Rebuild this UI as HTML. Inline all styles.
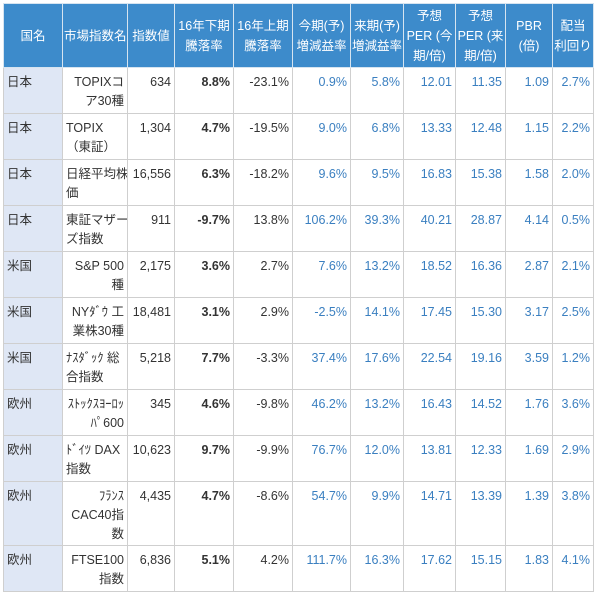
<!DOCTYPE html>
<html><head><meta charset="utf-8"><style>
body{margin:0;background:#fff;width:600px;height:597px;overflow:hidden}
table{position:absolute;left:3px;top:3px;border-collapse:collapse;table-layout:fixed;width:590px;font-family:"Liberation Sans","Noto Sans CJK JP",sans-serif;font-size:12.5px;line-height:19px;color:#333}
th{background:#3d8bcb;color:#fff;font-weight:normal;border:1px solid #d6e4f0;text-align:center;vertical-align:middle;padding:0 1px;height:63px;white-space:nowrap;overflow:hidden;line-height:20px}
td{border:1px solid #cfcfcf;vertical-align:top;padding:5px 3px 0 3px;text-align:right;height:40px;white-space:nowrap;overflow:hidden}
td.c{background:#dfe7f5;text-align:left}
td.l{text-align:left}
td.b{font-weight:bold}
td.u{color:#3a7fc0}
tr.tall td{height:58px}
</style></head><body>
<table>
<colgroup><col style="width:59px"><col style="width:65px"><col style="width:47px"><col style="width:59px"><col style="width:59px"><col style="width:58px"><col style="width:53px"><col style="width:52px"><col style="width:50px"><col style="width:47px"><col style="width:41px"></colgroup>
<tr><th>国名</th><th>市場指数名</th><th>指数値</th><th>16年下期<br>騰落率</th><th>16年上期<br>騰落率</th><th>今期(予)<br>増減益率</th><th>来期(予)<br>増減益率</th><th>予想<br>PER (今<br>期/倍)</th><th>予想<br>PER (来<br>期/倍)</th><th>PBR<br>(倍)</th><th>配当<br>利回り</th></tr>
<tr><td class="c">日本</td><td>TOPIXコ<br>ア30種</td><td>634</td><td class="b">8.8%</td><td>-23.1%</td><td class="u">0.9%</td><td class="u">5.8%</td><td class="u">12.01</td><td class="u">11.35</td><td class="u">1.09</td><td class="u">2.7%</td></tr>
<tr><td class="c">日本</td><td class="l">TOPIX<br>（東証）</td><td>1,304</td><td class="b">4.7%</td><td>-19.5%</td><td class="u">9.0%</td><td class="u">6.8%</td><td class="u">13.33</td><td class="u">12.48</td><td class="u">1.15</td><td class="u">2.2%</td></tr>
<tr><td class="c">日本</td><td class="l">日経平均株<br>価</td><td>16,556</td><td class="b">6.3%</td><td>-18.2%</td><td class="u">9.6%</td><td class="u">9.5%</td><td class="u">16.83</td><td class="u">15.38</td><td class="u">1.58</td><td class="u">2.0%</td></tr>
<tr><td class="c">日本</td><td class="l">東証マザー<br>ズ指数</td><td>911</td><td class="b">-9.7%</td><td>13.8%</td><td class="u">106.2%</td><td class="u">39.3%</td><td class="u">40.21</td><td class="u">28.87</td><td class="u">4.14</td><td class="u">0.5%</td></tr>
<tr><td class="c">米国</td><td>S&amp;P 500<br>種</td><td>2,175</td><td class="b">3.6%</td><td>2.7%</td><td class="u">7.6%</td><td class="u">13.2%</td><td class="u">18.52</td><td class="u">16.36</td><td class="u">2.87</td><td class="u">2.1%</td></tr>
<tr><td class="c">米国</td><td>NYﾀﾞｳ 工<br>業株30種</td><td>18,481</td><td class="b">3.1%</td><td>2.9%</td><td class="u">-2.5%</td><td class="u">14.1%</td><td class="u">17.45</td><td class="u">15.30</td><td class="u">3.17</td><td class="u">2.5%</td></tr>
<tr><td class="c">米国</td><td class="l">ﾅｽﾀﾞｯｸ 総<br>合指数</td><td>5,218</td><td class="b">7.7%</td><td>-3.3%</td><td class="u">37.4%</td><td class="u">17.6%</td><td class="u">22.54</td><td class="u">19.16</td><td class="u">3.59</td><td class="u">1.2%</td></tr>
<tr><td class="c">欧州</td><td>ｽﾄｯｸｽﾖｰﾛｯ<br>ﾊﾟ600</td><td>345</td><td class="b">4.6%</td><td>-9.8%</td><td class="u">46.2%</td><td class="u">13.2%</td><td class="u">16.43</td><td class="u">14.52</td><td class="u">1.76</td><td class="u">3.6%</td></tr>
<tr><td class="c">欧州</td><td class="l">ﾄﾞｲﾂ DAX<br>指数</td><td>10,623</td><td class="b">9.7%</td><td>-9.9%</td><td class="u">76.7%</td><td class="u">12.0%</td><td class="u">13.81</td><td class="u">12.33</td><td class="u">1.69</td><td class="u">2.9%</td></tr>
<tr class="tall"><td class="c">欧州</td><td>ﾌﾗﾝｽ<br>CAC40指<br>数</td><td>4,435</td><td class="b">4.7%</td><td>-8.6%</td><td class="u">54.7%</td><td class="u">9.9%</td><td class="u">14.71</td><td class="u">13.39</td><td class="u">1.39</td><td class="u">3.8%</td></tr>
<tr><td class="c">欧州</td><td>FTSE100<br>指数</td><td>6,836</td><td class="b">5.1%</td><td>4.2%</td><td class="u">111.7%</td><td class="u">16.3%</td><td class="u">17.62</td><td class="u">15.15</td><td class="u">1.83</td><td class="u">4.1%</td></tr>
</table>
</body></html>
